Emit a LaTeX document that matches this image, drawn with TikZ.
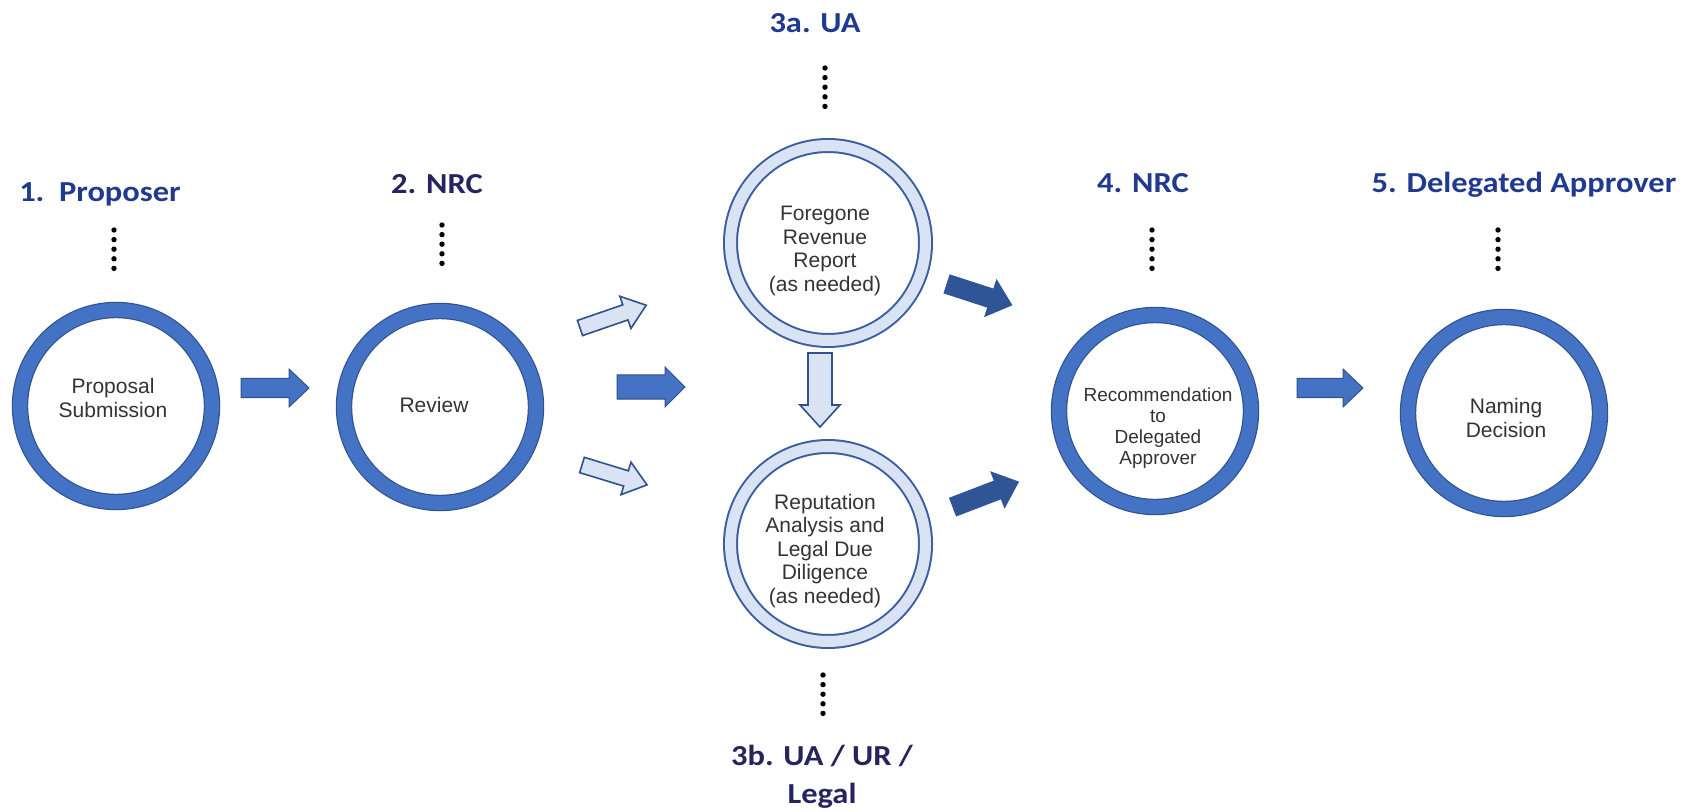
\documentclass[tikz,border=0pt]{standalone}
\usepackage{fontspec}
\setmainfont{Liberation Sans}
\newfontfamily\labfont{Carlito}[FakeStretch=1.12]
\definecolor{ringblue}{HTML}{4472C4}
\definecolor{ringdark}{HTML}{2F528F}
\definecolor{ltfill}{HTML}{DAE3F3}
\definecolor{ltedge}{HTML}{3A5FA0}
\definecolor{dkarrow}{HTML}{2F5597}
\definecolor{txtgray}{HTML}{333333}
\definecolor{labblue}{HTML}{1F3A8F}
\definecolor{labdark}{HTML}{26235F}
\begin{document}
\begin{tikzpicture}[x=0.5pt,y=-0.5pt,
  solidring/.style={circle, draw=ringdark, line width=0.6pt, double=ringblue, double distance=7pt, fill=white, minimum size=96pt, inner sep=0pt},
  lightring/.style={circle, draw=ltedge, line width=1pt, double=ltfill, double distance=5.5pt, fill=white, minimum size=97.5pt, inner sep=0pt},
  intext/.style={align=center, text=txtgray, font=\fontsize{10.5}{11.75}\selectfont, inner sep=0pt},
  lab/.style={text=labblue, font=\labfont\bfseries\fontsize{14.5}{19}\selectfont, align=center, inner sep=0pt},
  barrow/.style={fill=ringblue, draw=ringdark, line width=0.5pt, line join=miter},
  larrow/.style={fill=ltfill, draw=ringdark, line width=0.8pt, line join=miter},
  darrow/.style={fill=dkarrow, draw=dkarrow, line width=0.5pt, line join=miter}]
\useasboundingbox (0,0) rectangle (1696,812);
\fill[white] (0,0) rectangle (1696,812);

% rings
\node[solidring] (c1) at (116,406) {};
\node[solidring] (c2) at (440,407) {};
\node[lightring] (c3a) at (828,243) {};
\node[lightring] (c3b) at (828,544) {};
\node[solidring] (c4) at (1155,411) {};
\node[solidring] (c5) at (1504,413) {};

% texts in rings
\node[intext] (t1) at (113,398) {Proposal\\Submission};
\node[intext] (t2) at (434,405) {Review};
\node[intext] (t3a) at (825,251) {Foregone\\Revenue\\Report\\(as needed)};
\node[intext] (t3b) at (825,551) {Reputation\\Analysis and\\Legal Due\\Diligence\\(as needed)};
\node[intext, font=\fontsize{9.5}{10.6}\selectfont] (t4) at (1158,428) {Recommendation\\to\\Delegated\\Approver};
\node[intext] (t5) at (1506,418) {Naming\\Decision};

% headings
\node[lab, anchor=base] (l1) at (100,202) {1.\ \ Proposer};
\node[lab, anchor=base, text=labdark] (l2) at (437,194) {2. NRC};
\node[lab, anchor=base] (l3a) at (815,33) {3a. UA};
\node[lab, text=labdark] (l3b) at (822,777) {3b. UA / UR /\\Legal};
\node[lab, anchor=base] (l4) at (1143,193) {4. NRC};
\node[lab, anchor=base] (l5) at (1524,193) {5. Delegated Approver};

% dots
\foreach \dx/\dy in {114/230, 442/225, 825/68, 823/675, 1152/230, 1498/230}
  \foreach \k in {0,...,4}
    \fill[black] (\dx,\dy+9.6*\k) circle (1.35pt);

% blue block arrows
\foreach \px/\py/\ang/\len/\sw/\hw/\hl in {241/388/0/68/9.5/19/20, 1297/388/0/66/9.5/19/20, 617/387/0/68/12/20/20}
  \draw[barrow, shift={(\px,\py)}, rotate=\ang] (0,-\sw) -- ({\len-\hl},-\sw) -- ({\len-\hl},-\hw) -- (\len,0) -- ({\len-\hl},\hw) -- ({\len-\hl},\sw) -- (0,\sw) -- cycle;
% light block arrows
\foreach \px/\py/\ang/\len/\sw/\hw/\hl in {580/328/19/70/8/17/22, 582/465/-17/68/8/17/22, 820/353/-90/74/12/20/22}
  \draw[larrow, shift={(\px,\py)}, rotate=\ang] (0,-\sw) -- ({\len-\hl},-\sw) -- ({\len-\hl},-\hw) -- (\len,0) -- ({\len-\hl},\hw) -- ({\len-\hl},\sw) -- (0,\sw) -- cycle;
% dark block arrows
\foreach \px/\py/\ang/\len/\sw/\hw/\hl in {947/284/-18/68/9.5/19/22, 953/507/21/70/9.5/19/22}
  \draw[darrow, shift={(\px,\py)}, rotate=\ang] (0,-\sw) -- ({\len-\hl},-\sw) -- ({\len-\hl},-\hw) -- (\len,0) -- ({\len-\hl},\hw) -- ({\len-\hl},\sw) -- (0,\sw) -- cycle;
\end{tikzpicture}
\end{document}
